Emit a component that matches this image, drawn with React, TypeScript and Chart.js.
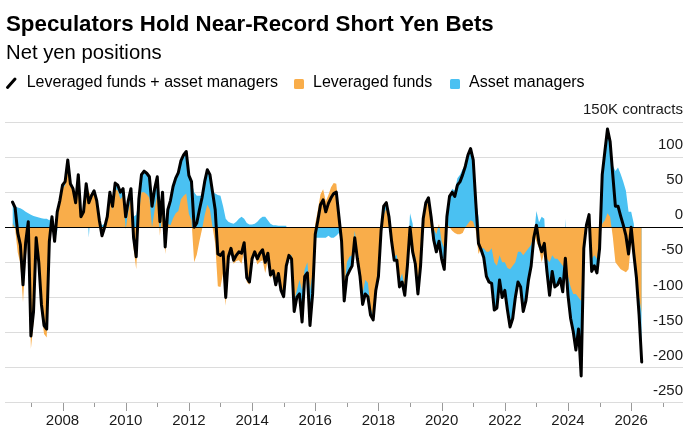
import React, { useEffect, useRef } from 'react';
import { Chart, registerables } from 'chart.js';

Chart.register(...registerables);

// ---- data (thousand contracts, monthly, Jun 2006 – May 2026) ----
const FIRST_YEAR = 2006;
const FIRST_MONTH = 6; // June

const leveragedFunds: number[] = [
  /*2006*/ 6, -2, -36, -52, -107, -44, -12,
  /*2007*/ -173, -136, -30, -64, -123, -152, -157, -30, 12, -6, 27, 35,
  /*2008*/ 55, 60, 91, 59, 52, 32, 70, 12, 22, 59, 50, 45,
  /*2009*/ 49, 35, 7, -15, -5, 10, 45, 25, 55, 52, 40, 45,
  /*2010*/ -3, 23, 40, -30, -60, 20, 50, 50, 47, 42, 0, 25,
  /*2011*/ 47, -12, 30, -38, 5, 3, 13, 20, 23, 40, 45, 48,
  /*2012*/ 19, 10, -50, -39, -20, -3, 17, 32, 25, 0, -23, -84,
  /*2013*/ -85, -65, -112, -50, -36, -52, -48, -47, -52, -34, -78, -82,
  /*2014*/ -49, -40, -53, -49, -47, -65, -47, -73, -65, -85, -68, -92,
  /*2015*/ -101, -57, -40, -40, -105, -90, -75, -90, -60, -50, -90, -65,
  /*2016*/ 5, 25, 47, 54, 37, 46, 57, 63, 62, 23, -10, -90,
  /*2017*/ -50, -42, -40, -5, -35, -60, -95, -75, -79, -115, -127, -85,
  /*2018*/ -65, -10, 18, 27, 10, -20, -42, -39, -75, -66, -87, -55,
  /*2019*/ -20, -40, -42, -80, -45, 12, 30, 37, 20, -3, -10, 5,
  /*2020*/ -20, -30, 5, 0, -5, -8, -10, -10, -8, 0, 5, 10,
  /*2021*/ 8, -5, -38, -30, -30, -35, -35, -30, -50, -55, -40, -50,
  /*2022*/ -50, -58, -60, -55, -50, -35, -35, -40, -35, -30, -25, -10,
  /*2023*/ -20, -30, -50, -35, -45, -50, -40, -45, -45, -50, -55, -56,
  /*2024*/ -70, -85, -95, -95, -100, -105, -30, 0, 5, -45, -40, -45,
  /*2025*/ -18, 5, 10, 20, 15, -13, -50, -55, -60, -62, -64, -60,
  /*2026*/ -22, -43, -67, -100, -122,
];

const assetManagers: number[] = [
  /*2006*/ 30, 30, 28, 27, 25, 22, 20,
  /*2007*/ 18, 16, 15, 14, 13, 12, 12, 10, 3, -14, -5, 3,
  /*2008*/ 5, 5, 5, 3, 3, 3, 5, 3, 0, 3, -15, 0,
  /*2009*/ 3, 3, 3, 3, 5, 5, 5, 5, 8, 8, 10, 10,
  /*2010*/ 18, 15, 15, 15, 18, 20, 25, 30, 30, 30, 30, 30,
  /*2011*/ 25, 20, 20, 10, 20, 35, 45, 50, 55, 55, 58, 60,
  /*2012*/ 55, 55, 50, 45, 45, 45, 48, 50, 50, 50, 48, 46,
  /*2013*/ 45, 30, 12, 8, 6, 5, 8, 12, 15, 12, 6, 4,
  /*2014*/ 4, 5, 8, 12, 15, 15, 10, 5, 3, 3, 2, 2,
  /*2015*/ 2, 2, 0, -5, -15, -10, -20, -45, -10, -15, -50, -30,
  /*2016*/ -15, -15, -15, -15, -15, -12, -15, -15, -12, -8, -10, -15,
  /*2017*/ -20, -20, -15, -10, -10, -10, -15, -20, -20, -10, -5, -5,
  /*2018*/ -5, 5, 12, 8, 5, 0, -5, -8, -10, -12, -10, 0,
  /*2019*/ 20, 5, -10, -15, -10, 0, 5, 5, -5, -15, -25, -25,
  /*2020*/ -25, -30, 10, 44, 55, 52, 70, 75, 83, 87, 98, 102,
  /*2021*/ 88, 39, 15, -2, -13, -35, -43, -50, -68, -60, -35, -50,
  /*2022*/ -40, -60, -82, -75, -50, -43, -50, -80, -70, -45, -30, -5,
  /*2023*/ 23, 7, 15, 12, -18, -47, -23, -40, -37, -23, -37, 12,
  /*2024*/ -27, -45, -54, -80, -45, -107, 0, 3, 13, -18, -15, -20,
  /*2025*/ -12, 70, 98, 120, 107, 88, 80, 85, 76, 65, 52, 22,
  /*2026*/ 22, 5, -5, -25, -70,
];

// The black line is, by definition, leveraged funds + asset managers
const combined: number[] = leveragedFunds.map((v, i) => v + assetManagers[i]);

// month positions as decimal years
const monthPositions: number[] = leveragedFunds.map(
  (_, i) => FIRST_YEAR + (FIRST_MONTH - 1 + i) / 12
);

const Y_TICKS = [150, 100, 50, 0, -50, -100, -150, -200, -250];
const X_LABEL_YEARS = [2008, 2010, 2012, 2014, 2016, 2018, 2020, 2022, 2024, 2026];
const UNIT_LABEL = '150K contracts';

const TITLE = 'Speculators Hold Near-Record Short Yen Bets';
const SUBTITLE = 'Net yen positions';
const LEGEND = ['Leveraged funds + asset managers', 'Leveraged funds', 'Asset managers'];

const ORANGE = '#F9AD4A';
const BLUE = '#4AC1F2';
const FONT = '"Liberation Sans", Arial, Helvetica, sans-serif';

const X_MIN = 2006.18;
const X_MAX = 2027.64;

const decorPlugin = {
  id: 'decor',
  afterDatasetsDraw(chart: any) {
    const { ctx, chartArea, scales } = chart;
    const y0 = Math.round(scales.y.getPixelForValue(0)) + 0.5;
    ctx.save();
    ctx.strokeStyle = '#000';
    ctx.lineWidth = 1;
    ctx.beginPath();
    ctx.moveTo(chartArea.left, y0);
    ctx.lineTo(chartArea.right, y0);
    ctx.stroke();
    ctx.restore();
  },
  afterDraw(chart: any) {
    const { ctx, chartArea, scales } = chart;
    const x = scales.x;
    ctx.save();
    ctx.strokeStyle = '#9a9a9a';
    ctx.lineWidth = 1;
    const bottom = Math.round(chartArea.bottom);
    for (let yr = Math.ceil(X_MIN); yr <= Math.floor(X_MAX); yr++) {
      const px = Math.round(x.getPixelForValue(yr)) + 0.5;
      const len = yr % 2 === 0 ? 8 : 4;
      ctx.beginPath();
      ctx.moveTo(px, bottom);
      ctx.lineTo(px, bottom + len);
      ctx.stroke();
    }
    ctx.restore();
  },
};

export default function App() {
  const canvasRef = useRef<HTMLCanvasElement | null>(null);

  useEffect(() => {
    if (!canvasRef.current) return;
    const toPts = (arr: number[]) => arr.map((v, i) => ({ x: monthPositions[i], y: v }));
    const chart = new Chart(canvasRef.current, {
      type: 'line',
      data: {
        datasets: [
          {
            label: LEGEND[1],
            data: toPts(leveragedFunds),
            stack: 'parts',
            order: 1,
            backgroundColor: ORANGE,
            borderColor: 'rgba(0,0,0,0)',
            borderWidth: 0,
            pointRadius: 0,
            fill: 'origin',
            tension: 0,
          },
          {
            label: LEGEND[2],
            data: toPts(assetManagers),
            stack: 'parts',
            order: 2,
            backgroundColor: BLUE,
            borderColor: 'rgba(0,0,0,0)',
            borderWidth: 0,
            pointRadius: 0,
            fill: 'origin',
            tension: 0,
          },
          {
            label: LEGEND[0],
            data: toPts(combined),
            stack: 'total',
            order: 0,
            borderColor: '#000',
            borderWidth: 3,
            borderJoinStyle: 'round',
            borderCapStyle: 'round',
            pointRadius: 0,
            fill: false,
            tension: 0,
          },
        ] as any,
      },
      options: {
        animation: false,
        responsive: false,
        devicePixelRatio: 1,
        layout: { padding: { left: 5, right: 12, top: 122, bottom: 0 } },
        plugins: {
          legend: { display: false },
          tooltip: { enabled: false },
          title: { display: false },
        },
        scales: {
          x: {
            type: 'linear',
            min: X_MIN,
            max: X_MAX,
            grid: { display: false, drawTicks: false },
            border: { display: false },
            ticks: {
              stepSize: 1,
              includeBounds: false,
              autoSkip: false,
              maxRotation: 0,
              padding: 9,
              color: '#1a1a1a',
              font: { family: FONT, size: 15 },
              callback: (v: any) => (X_LABEL_YEARS.includes(Number(v)) ? String(v) : ''),
            },
            afterFit: (s: any) => {
              s.height = 31.3;
            },
          },
          y: {
            position: 'right',
            stacked: true,
            min: Math.min(...Y_TICKS),
            max: Math.max(...Y_TICKS),
            grid: {
              drawTicks: false,
              color: (c: any) => (c.tick && c.tick.value === 0 ? 'rgba(0,0,0,0)' : '#dcdcdc'),
              lineWidth: 1,
            },
            border: { display: false },
            ticks: {
              stepSize: 50,
              mirror: true,
              padding: 0,
              labelOffset: -12,
              color: '#1a1a1a',
              font: { family: FONT, size: 15 },
              callback: (v: any) => (Number(v) === Y_TICKS[0] ? UNIT_LABEL : String(v)),
            },
          },
        } as any,
      },
      plugins: [decorPlugin],
    });
    return () => chart.destroy();
  }, []);

  const abs = (style: React.CSSProperties): React.CSSProperties => ({
    position: 'absolute',
    whiteSpace: 'nowrap',
    lineHeight: 1,
    fontFamily: FONT,
    color: '#000',
    ...style,
  });

  return (
    <div
      style={{
        position: 'fixed',
        left: 0,
        top: 0,
        width: 695,
        height: 434,
        background: '#fff',
        overflow: 'hidden',
      }}
    >
      <canvas
        ref={canvasRef}
        width={695}
        height={434}
        style={{ position: 'absolute', left: 0, top: 0, width: 695, height: 434 }}
      />
      <div style={abs({ left: 6, top: 12.8, fontSize: 22.3, fontWeight: 700 })}>{TITLE}</div>
      <div style={abs({ left: 6, top: 42.1, fontSize: 20.3 })}>{SUBTITLE}</div>
      <svg style={{ position: 'absolute', left: 5, top: 76 }} width={14} height={14}>
        <line x1={2.5} y1={11.5} x2={10} y2={3} stroke="#000" strokeWidth={3} strokeLinecap="round" />
      </svg>
      <div style={abs({ left: 26.7, top: 74.2, fontSize: 16 })}>{LEGEND[0]}</div>
      <div
        style={{ position: 'absolute', left: 294, top: 78.5, width: 10, height: 10, background: ORANGE, borderRadius: 1.5 }}
      />
      <div style={abs({ left: 313, top: 74.2, fontSize: 16 })}>{LEGEND[1]}</div>
      <div
        style={{ position: 'absolute', left: 449.5, top: 78.5, width: 10, height: 10, background: BLUE, borderRadius: 1.5 }}
      />
      <div style={abs({ left: 469, top: 74.2, fontSize: 16 })}>{LEGEND[2]}</div>
    </div>
  );
}
